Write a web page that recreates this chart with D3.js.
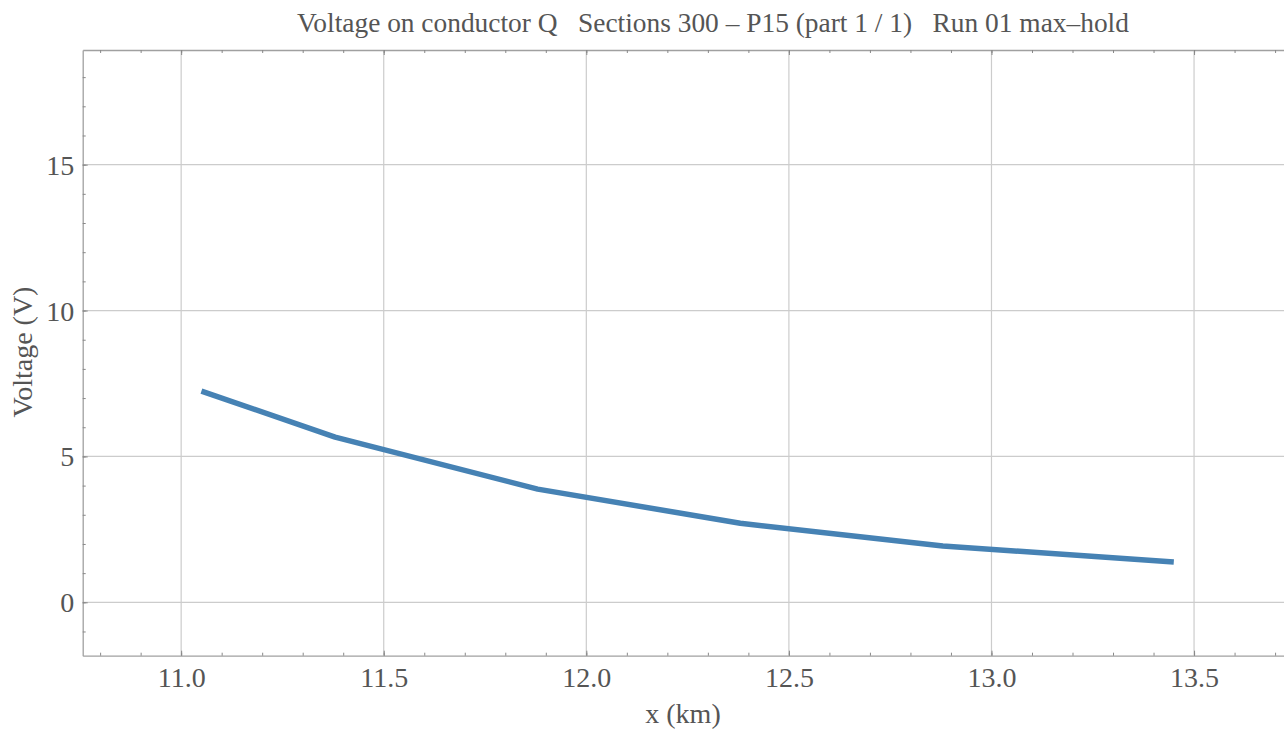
<!DOCTYPE html>
<html><head><meta charset="utf-8">
<script src="https://cdn.jsdelivr.net/npm/d3@7"></script>
<style>html,body{margin:0;padding:0;background:#fff;}svg{display:block;} text{white-space:pre;}</style>
</head><body>
<svg id="c" width="1284" height="733"></svg>
<script>
const xValues = [11.05, 11.38, 11.88, 12.38, 12.88, 13.45];
const voltage = [7.24, 5.66, 3.88, 2.71, 1.93, 1.38];
const xTicks = [11.0, 11.5, 12.0, 12.5, 13.0, 13.5];
const yTicks = [0, 5, 10, 15];
const titleText = "Voltage on conductor Q   Sections 300 \u2013 P15 (part 1 / 1)   Run 01 max\u2013hold";
const xLabel = "x (km)";
const yLabel = "Voltage (V)";

const svg = d3.select("#c");
const L = 82.7, R = 1284, T = 50, B = 655.7;
const x = d3.scaleLinear().domain([10.757, 13.722]).range([L, R]);
const y = d3.scaleLinear().domain([-1.83, 18.93]).range([B, T]);
const font = "Liberation Serif, Times New Roman, serif";
const textCol = "#555555";
const fs = 28;

// grid
const g = svg.append("g");
g.selectAll(".gx").data(xTicks).enter().append("line")
  .attr("x1", d => x(d)).attr("x2", d => x(d)).attr("y1", T).attr("y2", B)
  .attr("stroke", "#cccccc").attr("stroke-width", 1.2);
g.selectAll(".gy").data(yTicks).enter().append("line")
  .attr("x1", L).attr("x2", R).attr("y1", d => y(d)).attr("y2", d => y(d))
  .attr("stroke", "#cccccc").attr("stroke-width", 1.2);

const minorX = d3.range(108, 138).map(v => v / 10);
const minorY = d3.range(-1, 19);
const axisCol = "#a0a0a0";
function styleAxis(sel) {
  sel.select(".domain").attr("stroke", axisCol).attr("stroke-width", 1.3);
  sel.selectAll(".tick line").attr("stroke", "#888").attr("stroke-width", 1);
  sel.selectAll("text").attr("font-family", font).attr("font-size", fs).attr("fill", textCol);
}
const bx = svg.append("g").attr("transform", `translate(0,${B})`)
  .call(d3.axisBottom(x).tickValues(minorX).tickSize(-3).tickFormat("").tickSizeOuter(0));
styleAxis(bx);
const bxMaj = svg.append("g").attr("transform", `translate(0,${B})`)
  .call(d3.axisBottom(x).tickValues(xTicks).tickSize(-5).tickFormat(d3.format(".1f")).tickSizeOuter(0));
styleAxis(bxMaj);
bxMaj.select(".domain").remove();
bxMaj.selectAll("text").attr("dy", null).attr("y", 31.5);
const tx = svg.append("g").attr("transform", `translate(0,${T})`)
  .call(d3.axisTop(x).tickValues(minorX).tickSize(-3).tickFormat("").tickSizeOuter(0));
styleAxis(tx);
const txMaj = svg.append("g").attr("transform", `translate(0,${T})`)
  .call(d3.axisTop(x).tickValues(xTicks).tickSize(-5).tickFormat("").tickSizeOuter(0));
styleAxis(txMaj); txMaj.select(".domain").remove();
const ly = svg.append("g").attr("transform", `translate(${L},0)`)
  .call(d3.axisLeft(y).tickValues(minorY).tickSize(-3).tickFormat("").tickSizeOuter(0));
styleAxis(ly);
const lyMaj = svg.append("g").attr("transform", `translate(${L},0)`)
  .call(d3.axisLeft(y).tickValues(yTicks).tickSize(-5).tickFormat(d3.format("d")).tickSizeOuter(0));
styleAxis(lyMaj); lyMaj.select(".domain").remove();
lyMaj.selectAll("text").attr("x", -8.5).attr("dy", "0.34em");

const line = d3.line().x((d, i) => x(xValues[i])).y(d => y(d));
svg.append("path").datum(voltage).attr("d", line)
  .attr("fill", "none").attr("stroke", "#4682b4").attr("stroke-width", 5.5)
  .attr("stroke-linejoin", "round");

svg.append("text").attr("x", 713).attr("y", 32).attr("text-anchor", "middle")
  .attr("font-family", font).attr("font-size", 27.4).attr("fill", textCol).text(titleText);
svg.append("text").attr("x", 683).attr("y", 723).attr("text-anchor", "middle")
  .attr("font-family", font).attr("font-size", fs).attr("fill", textCol).text(xLabel);
svg.append("text").attr("transform", "translate(32,352) rotate(-90)").attr("text-anchor", "middle")
  .attr("font-family", font).attr("font-size", fs).attr("fill", textCol).text(yLabel);
</script>
</body></html>
